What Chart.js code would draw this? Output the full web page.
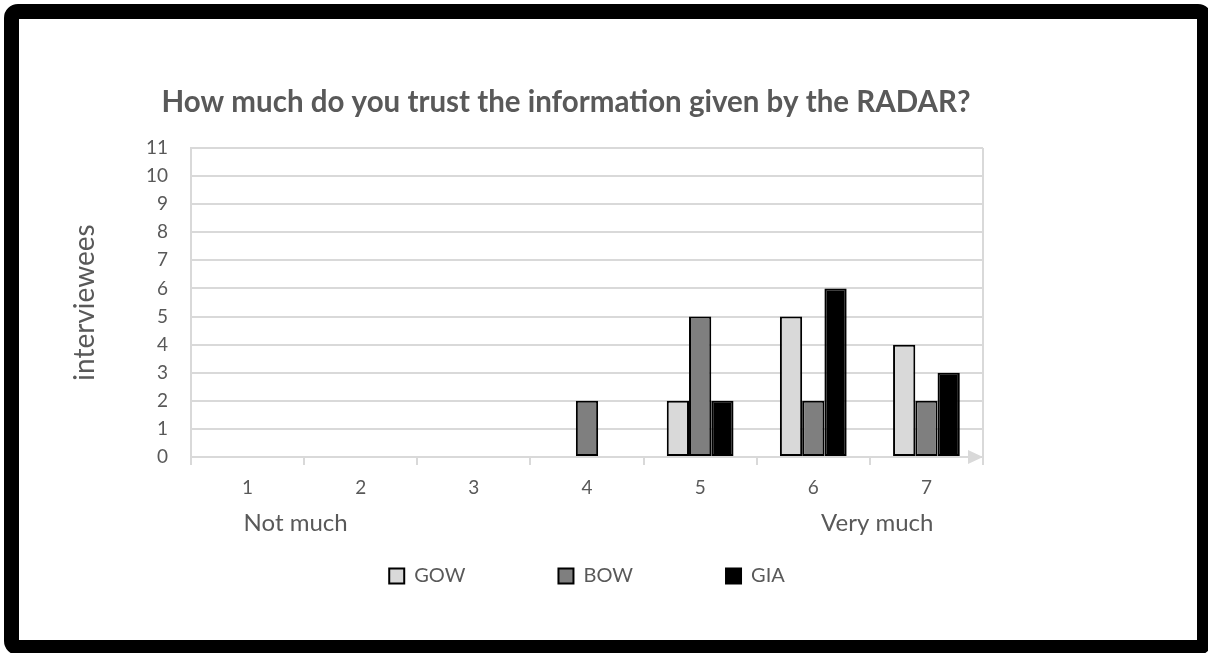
<!DOCTYPE html>
<html>
<head>
<meta charset="utf-8">
<script src="https://cdn.jsdelivr.net/npm/chart.js@4.4.1/dist/chart.umd.min.js"></script>
<style>
  html, body { margin: 0; padding: 0; background: #fff; overflow: hidden; }
  #wrap { position: relative; width: 1208px; height: 653px; }
  #c { position: absolute; left: 0; top: 0; }
  #frame { position: absolute; left: 4px; top: 4px; width: 1178px; height: 621px;
           border: 15px solid #000; border-radius: 14px; pointer-events: none; }
</style>
</head>
<body>
<div id="wrap">
  <canvas id="c" width="1208" height="653"></canvas>
  <div id="frame"></div>
</div>
<script>
// ---- data ----
const categories = ['1', '2', '3', '4', '5', '6', '7'];
const scaleEndLabels = ['Not much', 'Very much'];
const seriesNames = ['GOW', 'BOW', 'GIA'];
const gowValues = [0, 0, 0, 0, 2, 5, 4];
const bowValues = [0, 0, 0, 2, 5, 2, 2];
const giaValues = [0, 0, 0, 0, 2, 6, 3];
const yMin = 0;
const yMax = 11;
const yStep = 1;
const chartTitle = 'How much do you trust the information given by the RADAR?';
const yAxisTitle = 'interviewees';

// ---- style ----
const FONT = 'Lato';
const TEXT = '#595959';
const GRID = '#d9d9d9';
const fills = ['#d9d9d9', '#7f7f7f', '#000000'];
const LEGEND_GAP = '\u2002\u2002 ';

const decor = {
  id: 'decor',
  beforeDatasetsDraw(chart) {
    const { ctx, chartArea: a } = chart;
    ctx.save();
    ctx.strokeStyle = GRID;
    ctx.lineWidth = 2;
    ctx.beginPath();
    ctx.moveTo(a.right, a.top);
    ctx.lineTo(a.right, a.bottom + 6);
    ctx.stroke();
    ctx.restore();
  },
  afterDraw(chart) {
    const { ctx, chartArea: a } = chart;
    const xs = chart.scales.x;
    ctx.save();
    ctx.fillStyle = GRID;
    ctx.beginPath();
    ctx.moveTo(a.right, a.bottom);
    ctx.lineTo(a.right - 15, a.bottom - 7);
    ctx.lineTo(a.right - 15, a.bottom + 7);
    ctx.closePath();
    ctx.fill();
    ctx.font = '24px ' + FONT;
    ctx.fillStyle = TEXT;
    ctx.textBaseline = 'middle';
    const y = xs.top + 66;
    ctx.textAlign = 'left';
    ctx.fillText(scaleEndLabels[0], xs.getPixelForValue(0) - 4, y);
    ctx.textAlign = 'right';
    ctx.fillText(scaleEndLabels[1], xs.getPixelForValue(categories.length - 1) + 7, y);
    ctx.restore();
  }
};

const seriesValues = [gowValues, bowValues, giaValues];

new Chart(document.getElementById('c'), {
  type: 'bar',
  data: {
    labels: categories,
    datasets: seriesNames.map((name, i) => ({
      label: name,
      data: seriesValues[i],
      backgroundColor: fills[i],
      borderColor: '#000000',
      borderWidth: 2,
      borderSkipped: false,
      categoryPercentage: 0.59,
      barPercentage: 1.0
    }))
  },
  options: {
    responsive: false,
    devicePixelRatio: 1,
    animation: false,
    layout: { padding: { left: 0, right: 76, top: 0, bottom: 57 } },
    plugins: {
      title: {
        display: true,
        text: chartTitle,
        color: TEXT,
        font: { family: FONT, size: 29.5, weight: 'bold' },
        padding: { top: 84.3, bottom: 28.3 }
      },
      legend: {
        position: 'bottom',
        fullSize: false,
        labels: {
          color: TEXT,
          font: { family: FONT, size: 20 },
          boxWidth: 15,
          boxHeight: 15,
          padding: 68,
          generateLabels(chart) {
            const items = Chart.defaults.plugins.legend.labels.generateLabels(chart);
            items.forEach((it, i) => { if (i < items.length - 1) it.text = it.text + LEGEND_GAP; });
            return items;
          }
        }
      },
      tooltip: { enabled: false }
    },
    scales: {
      x: {
        grid: { display: true, drawOnChartArea: false, drawTicks: true, tickLength: 8, color: GRID, lineWidth: 2 },
        border: { display: true, color: GRID, width: 2 },
        ticks: { color: TEXT, font: { family: FONT, size: 19 }, padding: 11 },
        afterFit(s) { s.height = 41; }
      },
      y: {
        min: yMin,
        max: yMax,
        grid: { color: GRID, lineWidth: 2, drawTicks: false },
        border: { display: true, color: GRID, width: 2 },
        ticks: { stepSize: yStep, color: TEXT, font: { family: FONT, size: 19 }, padding: 23 },
        title: { display: true, text: yAxisTitle, color: TEXT, font: { family: FONT, size: 28 }, padding: { top: 68, bottom: 0 } },
        afterFit(s) { s.width = 191; }
      },
      rightSpace: {
        type: 'linear',
        position: 'right',
        display: true,
        grid: { display: false },
        border: { display: false },
        ticks: { display: false },
        afterFit(s) { s.width = 149; }
      }
    }
  },
  plugins: [decor]
});
</script>
</body>
</html>
